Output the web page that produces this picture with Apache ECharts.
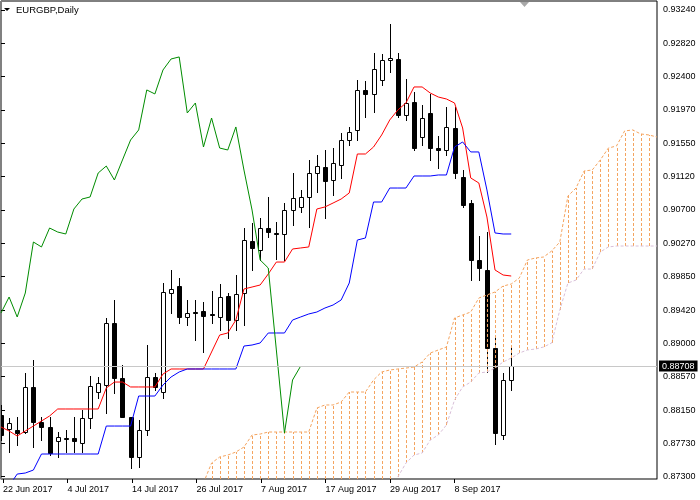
<!DOCTYPE html>
<html><head><meta charset="utf-8">
<script src="https://cdn.jsdelivr.net/npm/echarts@6/dist/echarts.min.js"></script>
<style>html,body{margin:0;padding:0;background:#fff}#c{width:700px;height:500px}</style>
</head><body><div id="c"></div>
<script>
// ---------- data (bar index 0 = 22 Jun 2017) ----------
const dateLabels = ['22 Jun 2017','4 Jul 2017','14 Jul 2017','26 Jul 2017','7 Aug 2017','17 Aug 2017','29 Aug 2017','8 Sep 2017'];
const priceLabels = ['0.87300','0.87730','0.88150','0.88570','0.89000','0.89420','0.89850','0.90270','0.90700','0.91120','0.91550','0.91970','0.92400','0.92820','0.93240'];

const opens = [0.88085,0.87907,0.87894,0.87869,0.88442,0.87996,0.87933,0.87754,0.87793,0.87793,
0.87729,0.88047,0.88378,0.88467,0.89256,0.88556,0.88060,0.87551,0.87894,0.88569,
0.88378,0.89638,0.89727,0.89333,0.89396,0.89409,0.89371,0.89333,0.89600,0.89294,
0.89638,0.90300,0.90185,0.90465,0.90402,0.90389,0.90694,0.90733,0.90860,0.91165,
0.91242,0.91076,0.91267,0.91585,0.91713,0.92222,0.92171,0.92349,0.92603,0.92616,
0.91903,0.92069,0.91623,0.91929,0.91483,0.91458,0.91738,0.91114,0.90783,0.90058,
0.89931,0.88938,0.87831,0.88531];
const closes = [0.87831,0.87983,0.87856,0.88442,0.87996,0.87933,0.87602,0.87805,0.87790,0.87754,
0.88047,0.88454,0.88493,0.89256,0.88556,0.88060,0.87551,0.87894,0.88569,0.88442,
0.89651,0.89689,0.89333,0.89383,0.89383,0.89345,0.89368,0.89587,0.89294,0.89625,
0.90312,0.90211,0.90465,0.90414,0.90398,0.90694,0.90847,0.90860,0.91165,0.91254,
0.91063,0.91292,0.91585,0.91687,0.92222,0.92171,0.92489,0.92603,0.92629,0.91903,
0.92056,0.91483,0.91865,0.91483,0.91458,0.91751,0.91165,0.90758,0.90058,0.89956,
0.88938,0.87856,0.88531,0.88708];
const lows = [0.87767,0.87614,0.87704,0.87856,0.87678,0.87767,0.87576,0.87551,0.87614,0.87614,
0.87614,0.87920,0.88302,0.88111,0.88365,0.88055,0.87411,0.87424,0.87831,0.88403,
0.88302,0.89383,0.89256,0.89231,0.89040,0.88887,0.89256,0.89167,0.89065,0.89167,
0.89231,0.89931,0.90058,0.90351,0.90071,0.90058,0.90503,0.90669,0.90478,0.90923,
0.90592,0.90885,0.91102,0.91522,0.91585,0.91878,0.91942,0.92285,0.92451,0.91878,
0.91840,0.91458,0.91522,0.91331,0.91229,0.91394,0.91102,0.90733,0.89803,0.89803,
0.88633,0.87716,0.87780,0.88403];
const highs = [0.88213,0.88047,0.88060,0.88620,0.88785,0.88060,0.88060,0.87869,0.87894,0.88060,
0.88149,0.88582,0.88569,0.89320,0.89549,0.88722,0.88065,0.88022,0.88976,0.88620,
0.89765,0.89931,0.89829,0.89549,0.89549,0.89523,0.89663,0.89752,0.89638,0.89867,
0.90465,0.90529,0.90592,0.90860,0.90542,0.90783,0.91165,0.90949,0.91331,0.91394,
0.91458,0.91483,0.91674,0.91751,0.92349,0.92336,0.92692,0.92680,0.93062,0.92692,
0.92362,0.92196,0.92031,0.92171,0.91636,0.92005,0.92005,0.91203,0.90822,0.90363,
0.90414,0.89065,0.88620,0.88938];

// Tenkan-sen (red), Kijun-sen (blue): one value per bar
const tenkan = [0.87933,0.87882,0.87818,0.87882,0.87945,0.88009,0.88073,0.88162,0.88162,0.88162,
0.88162,0.88162,0.88162,0.88429,0.88505,0.88505,0.88442,0.88442,0.88442,0.88442,
0.88607,0.88671,0.88671,0.88671,0.88671,0.88671,0.88887,0.89103,0.89129,0.89294,
0.89689,0.89714,0.89740,0.89880,0.90032,0.90032,0.90198,0.90211,0.90224,0.90707,
0.90733,0.90783,0.90834,0.90911,0.91407,0.91407,0.91496,0.91649,0.91840,0.91967,
0.92056,0.92260,0.92260,0.92183,0.92132,0.92107,0.92056,0.91738,0.91102,0.91038,
0.90605,0.89931,0.89867,0.89854];
const kijun = [null,0.87182,0.87334,0.87347,0.87385,0.87589,0.87589,0.87589,0.87589,0.87589,
0.87589,0.87589,0.87589,0.87945,0.87945,0.87945,0.87945,0.88327,0.88327,0.88327,
0.88467,0.88569,0.88633,0.88671,0.88671,0.88671,0.88671,0.88671,0.88671,0.88671,
0.88963,0.88976,0.89002,0.89129,0.89129,0.89129,0.89294,0.89333,0.89371,0.89396,
0.89447,0.89485,0.89549,0.89765,0.90312,0.90338,0.90796,0.90796,0.90974,0.90974,
0.90974,0.91127,0.91127,0.91127,0.91140,0.91140,0.91496,0.91560,0.91433,0.91433,
0.90949,0.90402,0.90389,0.90389];
// Chikou span (green): plotted from bar 0 to bar 37
const chikou = [0.89383,0.89587,0.89333,0.89638,0.90287,0.90224,0.90465,0.90414,0.90389,0.90707,
0.90834,0.90860,0.91165,0.91254,0.91076,0.91331,0.91585,0.91713,0.92222,0.92171,
0.92476,0.92616,0.92642,0.91929,0.92056,0.91496,0.91865,0.91483,0.91458,0.91751,
0.91203,0.90694,0.90058,0.89956,0.88913,0.87856,0.88531,0.88708];
// Senkou span A (cloud top), first visible at bar 25
const senkouAFirstBar = 25;
const senkouA = [0.87220,0.87474,0.87551,0.87576,0.87614,0.87678,0.87831,0.87843,0.87869,0.87869,
0.87869,0.87869,0.87869,0.87869,0.88174,0.88213,0.88213,0.88251,0.88378,0.88378,
0.88378,0.88531,0.88633,0.88658,0.88671,0.88683,0.88696,0.88760,0.88874,0.88913,
0.88951,0.89320,0.89358,0.89396,0.89574,0.89613,0.89651,0.89727,0.89752,0.89829,
0.90058,0.90084,0.90096,0.90173,0.90287,0.90872,0.90974,0.91191,0.91203,0.91331,
0.91483,0.91509,0.91700,0.91713,0.91662,0.91649,0.91623];
// Senkou span B (cloud bottom), first visible at bar 49
const senkouBFirstBar = 49;
const senkouB = [0.87296,0.87474,0.87576,0.87602,0.87767,0.87831,0.87958,0.88276,0.88442,0.88505,
0.88620,0.88633,0.88683,0.88760,0.88811,0.88874,0.88913,0.88925,0.88951,0.89002,
0.89422,0.89765,0.89803,0.89943,0.89943,0.90160,0.90224,0.90236,0.90236,0.90236,
0.90236,0.90236,0.90236];

// ---------- build ----------
const FONT = 'Liberation Sans, Arial, sans-serif';
const lastClose = closes[closes.length - 1];
const candleData = opens.map((o, i) => [i, o, closes[i], lows[i], highs[i]]);
const tenkanData = tenkan.map((v, i) => [i, v]);
const kijunData = kijun.map((v, i) => [i, v]).filter(d => d[1] != null);
const chikouData = chikou.map((v, i) => [i, v]);
const spanAData = senkouA.map((v, j) => [senkouAFirstBar + j, v]);
const spanBData = senkouB.map((v, j) => [senkouBFirstBar + j, v]);
const cloudRows = senkouA.map((a, j) => {
  const i = senkouAFirstBar + j;
  const k = i - senkouBFirstBar;
  return [i, a, k >= 0 ? senkouB[k] : null];
});

function renderCandle(params, api) {
  const i = api.value(0), o = api.value(1), c = api.value(2), l = api.value(3), h = api.value(4);
  const pO = api.coord([i, o]), pC = api.coord([i, c]);
  const pL = api.coord([i, l]), pH = api.coord([i, h]);
  const cx = Math.round(pO[0]) + 0.5;
  let top = Math.round(Math.min(pO[1], pC[1])) + 0.5;
  let bot = Math.round(Math.max(pO[1], pC[1])) + 0.5;
  if (bot - top < 1) bot = top + 1;
  const up = c >= o;
  return {
    type: 'group',
    children: [
      { type: 'line', shape: { x1: cx, y1: Math.round(pH[1]), x2: cx, y2: Math.round(pL[1]) + 1 },
        style: { stroke: '#000', lineWidth: 1 } },
      { type: 'rect', shape: { x: cx - 2, y: top, width: 4, height: bot - top },
        style: { fill: up ? '#fff' : '#000', stroke: '#000', lineWidth: 1 } }
    ]
  };
}
function renderCloud(params, api) {
  const row = cloudRows[params.dataIndex];
  const pa = api.coord([row[0], row[1]]);
  const cs = params.coordSys;
  const yb = row[2] == null ? cs.y + cs.height : api.coord([row[0], row[2]])[1];
  const x = Math.round(pa[0]) + 0.5;
  return { type: 'line', shape: { x1: x, y1: yb, x2: x, y2: pa[1] },
    style: { stroke: '#F4A460', lineWidth: 1, lineDash: [3, 2] } };
}

const chart = echarts.init(document.getElementById('c'), null, { renderer: 'canvas' });
chart.setOption({
  animation: false,
  backgroundColor: '#fff',
  grid: [
    { left: 1, right: 43, top: 1, bottom: 21, show: true, borderColor: '#000', borderWidth: 1, backgroundColor: '#fff' },
    { left: 1, right: 43, top: 10, bottom: 23.3 },
    { left: 1, right: 245.47, top: 1, bottom: 21 }
  ],
  xAxis: [
    { gridIndex: 0, type: 'value', min: 0, max: 81, axisLine: { show: true, lineStyle: { color: '#808080' } },
      axisTick: { show: false }, axisLabel: { show: false }, splitLine: { show: false } },
    { gridIndex: 1, type: 'value', min: 0, max: 1, show: false },
    { gridIndex: 2, type: 'value', min: 0, max: 56, interval: 8, position: 'bottom',
      axisLine: { show: false }, axisTick: { show: true, length: 4, lineStyle: { color: '#000' } },
      axisLabel: { show: true, align: 'left', margin: 6, fontSize: 9, fontFamily: FONT, color: '#000',
        showMinLabel: true, showMaxLabel: true,
        formatter: v => dateLabels[Math.round(v / 8)] || '' },
      splitLine: { show: false } }
  ],
  yAxis: [
    { gridIndex: 0, type: 'value', min: 0.87271, max: 0.93354, position: 'right',
      axisLine: { show: true, lineStyle: { color: '#808080' } }, axisTick: { show: false },
      axisLabel: { show: false }, splitLine: { show: false } },
    { gridIndex: 1, type: 'value', min: 0, max: 14, interval: 1, position: 'right',
      axisLine: { show: false }, axisTick: { show: true, length: 4, lineStyle: { color: '#000' } },
      axisLabel: { show: true, margin: 6, fontSize: 9, fontFamily: FONT, color: '#000',
        showMinLabel: true, showMaxLabel: true,
        formatter: v => priceLabels[Math.round(v)] || '' },
      splitLine: { show: false } },
    { gridIndex: 2, type: 'value', min: 0, max: 1, show: false }
  ],
  series: [
    { type: 'line', xAxisIndex: 1, yAxisIndex: 1, data: [], silent: true },
    { type: 'line', xAxisIndex: 2, yAxisIndex: 2, data: [], silent: true },
    { type: 'line', xAxisIndex: 0, yAxisIndex: 0, data: [], z: 0, silent: true,
      markLine: { silent: true, symbol: ['none', 'none'], animation: false, precision: 5,
        lineStyle: { color: '#c8c8c8', width: 1, type: 'solid' },
        label: { show: true, position: 'end', distance: 2, formatter: () => lastClose.toFixed(5),
          backgroundColor: '#000', color: '#fff', fontSize: 9, fontFamily: FONT, padding: [1, 3, 1, 3] },
        data: [{ yAxis: lastClose }] } },
    { type: 'custom', name: 'candles', xAxisIndex: 0, yAxisIndex: 0, z: 2, clip: true,
      renderItem: renderCandle, data: candleData, silent: true },
    { type: 'custom', name: 'cloud', xAxisIndex: 0, yAxisIndex: 0, z: 3, clip: true,
      renderItem: renderCloud, data: cloudRows.map(r => [r[0], r[1]]), silent: true },
    { type: 'line', name: 'Senkou A', data: spanAData, z: 3, symbol: 'none', clip: true,
      lineStyle: { color: '#F4A460', width: 1, type: [3, 2] } },
    { type: 'line', name: 'Senkou B', data: spanBData, z: 3, symbol: 'none', clip: true,
      lineStyle: { color: '#D8BFD8', width: 1, type: [3, 2] } },
    { type: 'line', name: 'Tenkan', data: tenkanData, z: 4, symbol: 'none', clip: true,
      lineStyle: { color: '#ff0000', width: 1 } },
    { type: 'line', name: 'Kijun', data: kijunData, z: 4, symbol: 'none', clip: true,
      lineStyle: { color: '#0000ff', width: 1 } },
    { type: 'line', name: 'Chikou', data: chikouData, z: 4, symbol: 'none', clip: true,
      lineStyle: { color: '#008c00', width: 1 } }
  ],
  graphic: [
    { type: 'polygon', shape: { points: [[4, 8], [10, 8], [7, 11]] }, style: { fill: '#000' } },
    { type: 'text', x: 16, y: 5, style: { text: 'EURGBP,Daily', font: '9.5px ' + FONT, fill: '#000' } },
    { type: 'polygon', shape: { points: [[520, 2], [529, 2], [524.5, 7]] }, style: { fill: '#a8a8a8' } }
  ]
});
</script>
</body></html>
